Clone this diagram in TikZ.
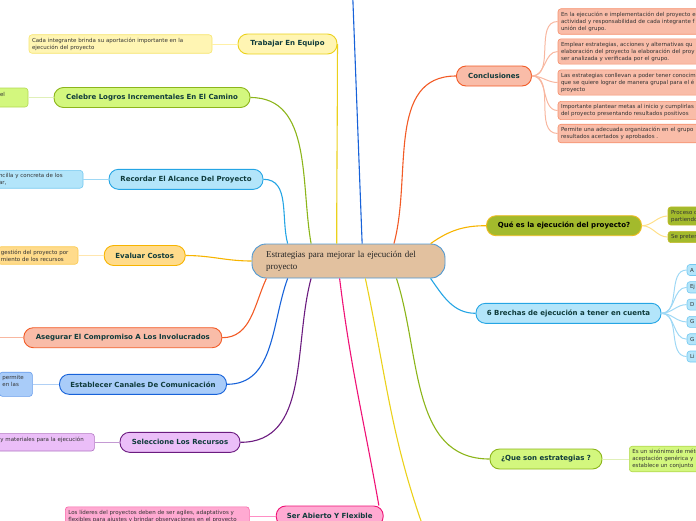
\documentclass[tikz,border=0pt]{standalone}
\usepackage{fontspec}
\usepackage{xcolor}
\setmainfont{Liberation Serif}
\newfontfamily\mapfont{DejaVu Sans}

\definecolor{ctrfill}{HTML}{E2C19F}
\definecolor{ctrline}{HTML}{4F98D2}
\definecolor{yelfill}{HTML}{FFF5B3}
\definecolor{yelline}{HTML}{EBD11B}
\definecolor{yelsoft}{HTML}{FFF0A6}
\definecolor{grnfill}{HTML}{D3F77E}
\definecolor{grnline}{HTML}{8CB51A}
\definecolor{grnsoft}{HTML}{E0F0B8}
\definecolor{skyfill}{HTML}{B3E5FA}
\definecolor{skyline}{HTML}{25A5E4}
\definecolor{skysoft}{HTML}{9ED8F5}
\definecolor{orgfill}{HTML}{FFDB8B}
\definecolor{orgline}{HTML}{F7B400}
\definecolor{orgsoft}{HTML}{FFE6AE}
\definecolor{salfill}{HTML}{F9BCA8}
\definecolor{salline}{HTML}{F25B26}
\definecolor{salsoft}{HTML}{F8B7A0}
\definecolor{bluefill}{HTML}{A9CCF9}
\definecolor{blueline}{HTML}{1762D9}
\definecolor{bluesoft}{HTML}{B0D0F5}
\definecolor{purfill}{HTML}{EBBEF8}
\definecolor{purline}{HTML}{6B1B7F}
\definecolor{pursoft}{HTML}{C49AD3}
\definecolor{pinkfill}{HTML}{FFAAD2}
\definecolor{pinkline}{HTML}{EF1276}
\definecolor{pinksoft}{HTML}{FF8EC4}
\definecolor{olvfill}{HTML}{A3BA2C}
\definecolor{olvline}{HTML}{F0BC20}
\definecolor{olvsoft}{HTML}{FFE08A}
\definecolor{textink}{HTML}{0F3B3B}
\definecolor{noteink}{HTML}{333333}

\begin{document}
\begin{tikzpicture}[x=1pt,y=1pt,
  topicbox/.style={draw=#1line, fill=#1fill, line width=0.9pt, rounded corners=9.5pt,
    minimum height=20pt, inner xsep=0pt, font=\mapfont\bfseries\fontsize{7}{8}\selectfont, text=textink},
  notebox/.style={draw=#1line!45!#1fill, fill=#1fill, line width=0.6pt, rounded corners=3pt,
    inner xsep=3pt, inner ysep=3pt, align=left, font=\mapfont\fontsize{5.5}{7}\selectfont, text=noteink},
  branchline/.style={draw=#1line, line width=1.1pt},
  twigline/.style={draw=#1soft, line width=1pt}]
\useasboundingbox (0,0) rectangle (696,-520);

\node[draw=ctrline, fill=ctrfill, line width=0.9pt, rounded corners=14pt, minimum width=193, minimum height=34,
  text width=165, align=left, font=\fontsize{9}{12}\selectfont, text=black!85] (ctr) at (348.5,-261)
  {Estrategias para mejorar la ejecución del\\proyecto};

\node[topicbox=yel, minimum width=99] (trab) at (287.5,-44) {Trabajar En Equipo};
\node[topicbox=grn, minimum width=196] (cel) at (152,-97.5) {Celebre Logros Incrementales En El Camino};
\node[topicbox=sky, minimum width=154] (rec) at (186,-179.3) {Recordar El Alcance Del Proyecto};
\node[topicbox=org, minimum width=81] (eva) at (144.7,-255.5) {Evaluar Costos};
\node[topicbox=sal, minimum width=198] (asg) at (122.8,-337.7) {Asegurar El Compromiso A Los Involucrados};
\node[topicbox=blue, minimum width=167] (est) at (143,-384.3) {Establecer Canales De Comunicación};
\node[topicbox=pur, minimum width=120] (sel) at (180,-442.3) {Seleccione Los Recursos};
\node[topicbox=pink, minimum width=107] (ser) at (329.7,-516) {Ser Abierto Y Flexible};
\node[topicbox=sal, minimum width=75] (con) at (494,-76) {Conclusiones};
\node[topicbox=olv, minimum width=155, text=black] (que) at (564,-225.7) {Qué es la ejecución del proyecto?};
\node[topicbox=sky, minimum width=185] (bre) at (568.5,-313.3) {6 Brechas de ejecución a tener en cuenta};
\node[topicbox=grn, minimum width=112] (qsn) at (546,-459) {¿Que son estrategias ?};

\node[notebox=yel, text width=177] (trabn) at (120.5,-44) {Cada integrante brinda su aportación importante en la\\ejecución del proyecto};
\node[notebox=grn, text width=25, minimum height=19, anchor=east] (celn) at (28.3,-97.5) {el\\\mbox{}};
\node[notebox=sky, text width=81, anchor=east] (recn) at (83.3,-179.3) {ncilla y concreta de los\\ar,};
\node[notebox=org, text width=74, anchor=east] (evan) at (78.3,-255.5) {gestión del proyecto por\\miento de los recursos};
\coordinate (asgn) at (-5,-337.7);
\node[notebox=blue, text width=27, anchor=east] (estn) at (32.7,-384.3) {permite\\en las\\\mbox{}};
\node[notebox=pur, text width=91, anchor=east] (seln) at (94.7,-442.3) {y materiales para la ejecución\\\mbox{}};
\node[notebox=pink, text width=178, anchor=north west] (sern) at (65,-506.5)
  {Los líderes del proyectos deben de ser agiles, adaptativos y\\flexibles para ajustes y brindar observaciones en el proyecto};
\node[notebox=olv, text width=60, anchor=west] (que1) at (667.7,-216) {Proceso de\\partiendo};
\node[notebox=olv, text width=60, anchor=west] (que2) at (667.7,-237) {Se pretende};
\node[notebox=grn, text width=80, anchor=west] (qsnn) at (629,-459) {Es un sinónimo de método\\aceptación genérica y\\establece un conjunto};

\foreach \yy/\txt [count=\i] in {
  21.5/{En la ejecución e implementación del proyecto e\\actividad y responsabilidad de cada integrante f\\unión del grupo.},
  51.5/{Emplear estrategias, acciones y alternativas  qu\\elaboración del proyecto  la elaboración del proy\\ser analizada y verificada por el grupo.},
  82.5/{Las estrategias conllevan a poder tener  conocim\\que se quiere lograr  de manera grupal para el é\\proyecto},
  110.5/{Importante plantear metas al inicio  y cumplirlas\\del proyecto presentando resultados positivos},
  133.5/{Permite una adecuada organización en el grupo\\resultados acertados y aprobados .}} {
  \node[notebox=sal, text width=170, anchor=west] (con\i) at (557.7,-\yy) {\txt};
  \draw[twigline=sal] (con.east) to[out=0,in=180] (con\i.west);
}
\foreach \lbl [count=\i] in {A,Ej,D,G,G,Li} {
  \node[notebox=sky, text width=24, minimum height=11, anchor=west] (bre\i) at (686.7,{-270-17.3*(\i-1)}) {\lbl};
  \draw[twigline=sky] (bre.east) to[out=0,in=180] (bre\i.west);
}

\draw[twigline=yel] (trab.west) -- (trabn.east);
\draw[twigline=grn] (cel.west) -- (celn.east);
\draw[twigline=sky] (rec.west) -- (recn.east);
\draw[twigline=org] (eva.west) -- (evan.east);
\draw[twigline=sal] (asg.west) -- (asgn);
\draw[twigline=blue] (est.west) -- (estn.east);
\draw[twigline=pur] (sel.west) -- (seln.east);
\draw[twigline=pink] (ser.west) -- (ser.west -| sern.east);
\draw[twigline=olv] (que.east) to[out=0,in=180] (que1.west);
\draw[twigline=olv] (que.east) to[out=0,in=180] (que2.west);
\draw[twigline=grn] (qsn.east) -- (qsnn.west);

\coordinate (topend) at (352.5,10);
\coordinate (lowend) at (426,-535);
\draw[branchline=yel] (ctr.124) to[out=90,in=-90] (trab.east);
\draw[branchline=grn] (ctr.155) to[out=100,in=0] (cel.east);
\draw[branchline=sky] (ctr.164) to[out=105,in=0] (rec.east);
\draw[branchline=org] (ctr.west) to[out=180,in=0] (eva.east);
\draw[branchline=sal] (ctr.192) to[out=-115,in=0] (asg.east);
\draw[branchline=blue] (ctr.196) to[out=-110,in=0] (est.east);
\draw[branchline=pur] (ctr.205) to[out=-105,in=0] (sel.east);
\draw[branchline=pink] (ctr.243) to[out=-83,in=100] (ser.12);
\draw[branchline=blue] (ctr.52) -- (topend);
\draw[branchline=yel] (ctr.314) to[out=-78,in=110] (lowend);
\draw[branchline=sal] (ctr.21) to[out=75,in=180] (con.west);
\draw[branchline=org] (ctr.12) to[out=35,in=180] (que.west);
\draw[branchline=sky] (ctr.348) to[out=-55,in=180] (bre.west);
\draw[branchline=grn] (ctr.340) to[out=-72,in=180] (qsn.west);
\end{tikzpicture}
\end{document}
